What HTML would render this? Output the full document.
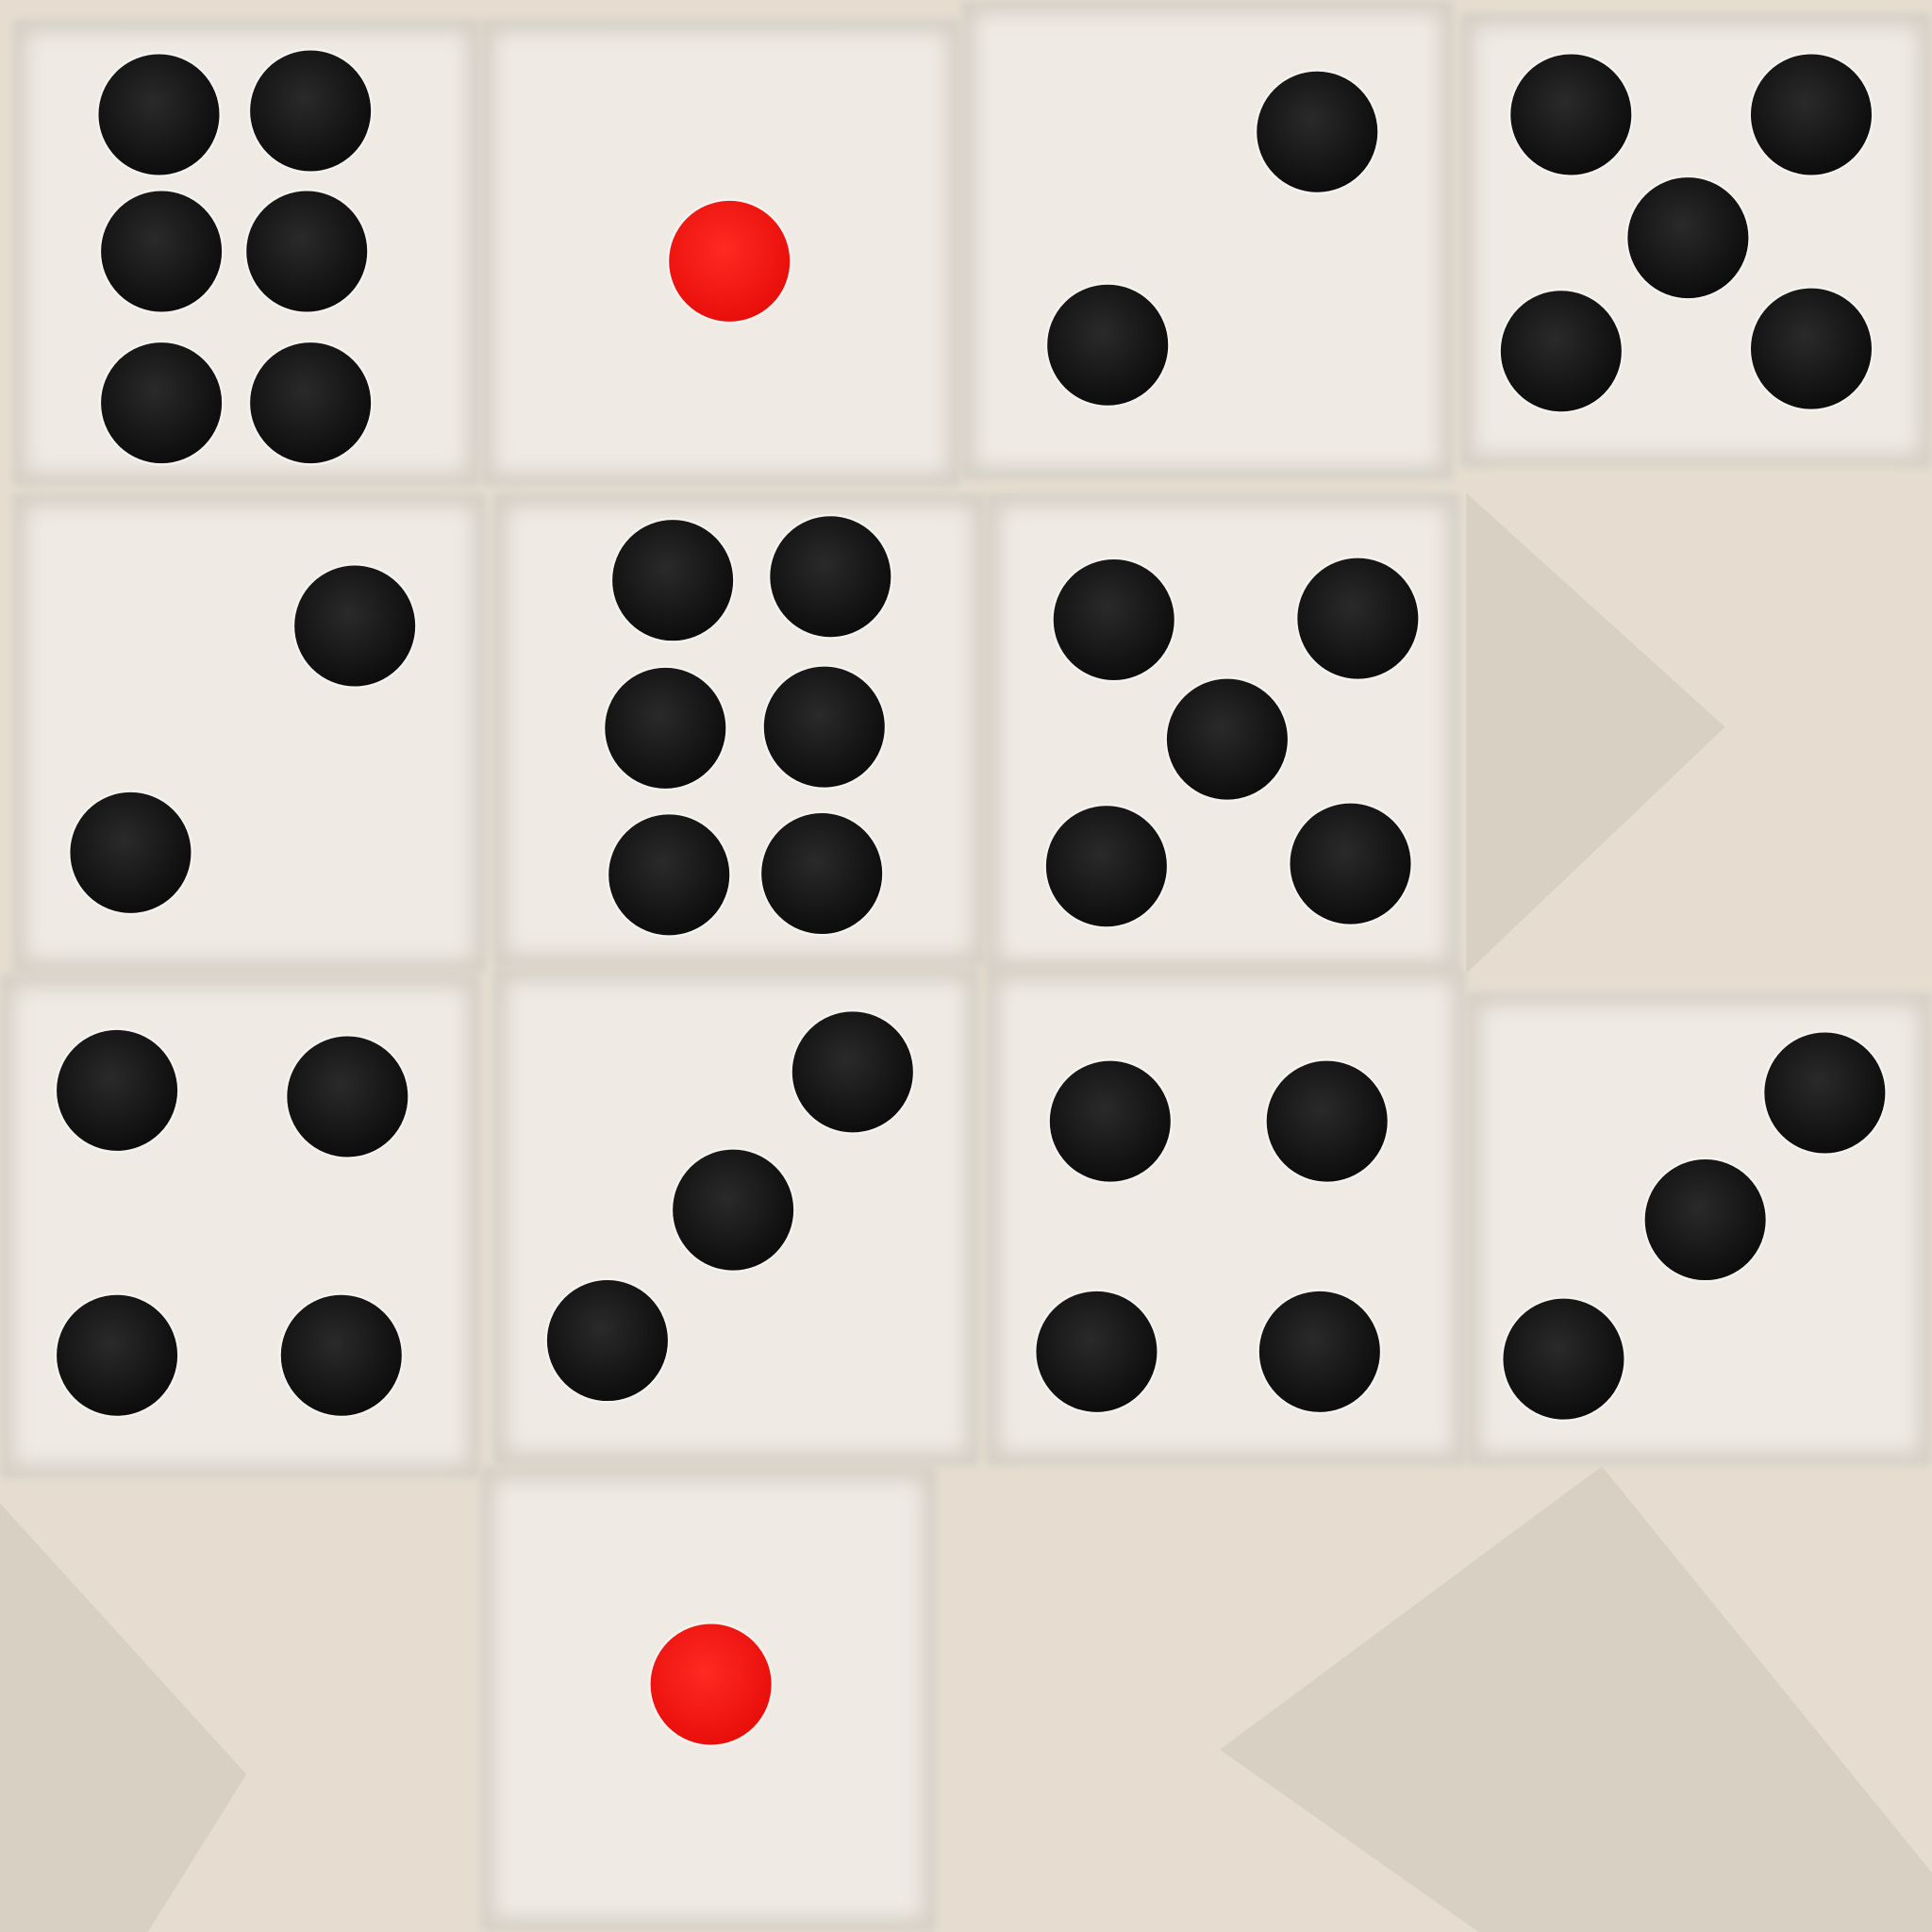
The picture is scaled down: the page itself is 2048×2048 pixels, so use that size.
<!DOCTYPE html>
<html><head><meta charset="utf-8"><style>
html,body{margin:0;padding:0;background:#e6ddd0;}
svg{display:block}
</style></head><body>
<svg width="2048" height="2048" viewBox="0 0 1568 1568" xmlns="http://www.w3.org/2000/svg">
<defs>
<filter id="blur" x="-10%" y="-10%" width="120%" height="120%"><feGaussianBlur stdDeviation="8"/></filter>
<filter id="blur2" x="-10%" y="-10%" width="120%" height="120%"><feGaussianBlur stdDeviation="3"/></filter>
<radialGradient id="pip" cx="45%" cy="40%" r="60%"><stop offset="0" stop-color="#2a2a2a"/><stop offset="1" stop-color="#0c0c0c"/></radialGradient>
<radialGradient id="red" cx="45%" cy="40%" r="60%"><stop offset="0" stop-color="#ff2a22"/><stop offset="1" stop-color="#e80e0a"/></radialGradient>
</defs>
<rect width="1568" height="1568" fill="#e6ddd0"/>
<g fill="#d3cbbf" opacity="0.7">
<polygon points="1190,400 1400,590 1190,790"/>
<polygon points="0,1220 200,1440 120,1568 0,1568"/>
<polygon points="990,1420 1300,1190 1568,1520 1568,1568 1200,1568"/>
</g>
<g id="tiles"></g>
</svg>
<script>
const tiles=[[10,15,380,380],[390,15,390,380],[780,0,400,390],[1185,10,383,370],
[10,400,385,390],[400,400,400,385],[800,400,385,390],
[0,790,390,410],[400,785,395,405],[800,785,390,405],[1190,805,378,385],[390,1190,370,378]];
const pips=[[129,93],[252,90],[131,204],[249,204],[131,327],[252,327],
[1069,107],[899,280],
[1275,93],[1470,93],[1370,193],[1267,285],[1470,283],
[288,508],[106,692],
[546,471],[674,468],[540,591],[669,590],[543,710],[667,709],
[904,503],[1102,502],[996,600],[898,703],[1096,701],
[95,885],[282,890],[95,1100],[277,1100],
[692,870],[595,982],[493,1088],
[901,910],[1077,910],[890,1097],[1071,1097],
[1481,887],[1384,990],[1269,1103]];
const redPips=[[592,212],[577,1367]];
const NS="http://www.w3.org/2000/svg";
const g=document.getElementById('tiles');
tiles.forEach((t,i)=>{
 const e=document.createElementNS(NS,'rect');
 
 
 e.setAttribute('x',t[0]);e.setAttribute('y',t[1]);e.setAttribute('width',t[2]);e.setAttribute('height',t[3]);
 e.setAttribute('fill','#d6d0c6');e.setAttribute('rx',6);e.setAttribute('filter','url(#blur2)');
 g.appendChild(e);
 const f=document.createElementNS(NS,'rect');
 
 
 f.setAttribute('x',t[0]+12);f.setAttribute('y',t[1]+12);f.setAttribute('width',t[2]-24);f.setAttribute('height',t[3]-24);
 f.setAttribute('fill','#efebe4');f.setAttribute('filter','url(#blur)');
 g.appendChild(f);
});
function pip(p,fill,name){
 const c=document.createElementNS(NS,'circle');
 
 
 c.setAttribute('cx',p[0]);c.setAttribute('cy',p[1]);c.setAttribute('r',50);
 c.setAttribute('fill',fill);c.setAttribute('stroke','#f4f2ee');c.setAttribute('stroke-width','2');
 g.appendChild(c);
}
pips.forEach(p=>pip(p,'url(#pip)','black-pip'));
redPips.forEach(p=>pip(p,'url(#red)','red-pip'));
</script>
</body></html>
